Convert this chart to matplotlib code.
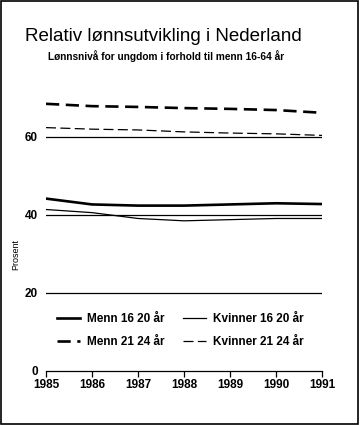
import matplotlib
matplotlib.use("Agg")
import matplotlib.pyplot as plt
from matplotlib.patches import Rectangle

plt.rcParams['font.family'] = ['Liberation Sans', 'DejaVu Sans']

years = [1985, 1986, 1987, 1988, 1989, 1990, 1991]
menn_16_20 = [44.2, 42.7, 42.4, 42.4, 42.7, 43.0, 42.8]
kvinner_16_20 = [41.4, 40.6, 39.1, 38.5, 38.8, 39.1, 39.1]
menn_21_24 = [68.5, 67.9, 67.7, 67.4, 67.2, 66.9, 66.2]
kvinner_21_24 = [62.4, 62.0, 61.8, 61.3, 61.0, 60.8, 60.4]
yticks = [0, 20, 40, 60]

fig = plt.figure(figsize=(3.6, 4.25), dpi=100)
fig.patches.append(Rectangle((0.004, 0.003), 0.99, 0.994, transform=fig.transFigure,
                             fill=False, edgecolor='black', linewidth=1.2))

ax = fig.add_axes([0.1278, 0.1271, 0.7667, 0.6424])
# plot order chosen so the 2-column legend reads row-wise like the original
ax.plot(years, menn_16_20, color='black', lw=1.9, label='Menn 16 20 år')
ax.plot(years, menn_21_24, color='black', lw=1.9, dashes=(5, 2.5), label='Menn 21 24 år')
ax.plot(years, kvinner_16_20, color='black', lw=0.9, label='Kvinner 16 20 år')
ax.plot(years, kvinner_21_24, color='black', lw=0.9, dashes=(8, 3.5), label='Kvinner 21 24 år')

for y in yticks[1:]:
    ax.axhline(y, color='black', lw=0.9, zorder=0)

ax.set_xlim(1985, 1991)
ax.set_ylim(0, 70)
ax.set_xticks(years)
ax.set_yticks(yticks)
ax.tick_params(axis='x', direction='out', length=4, width=0.9, labelsize=8.5, pad=2)
ax.tick_params(axis='y', length=0, labelsize=8.5, pad=6)
for lbl in ax.get_xticklabels() + ax.get_yticklabels():
    lbl.set_fontweight('bold')
for s in ['top', 'right', 'left']:
    ax.spines[s].set_visible(False)
ax.spines['bottom'].set_linewidth(0.9)

ax.legend(loc='lower left', bbox_to_anchor=(0.0, 0.045), ncol=2, frameon=False,
          handlelength=2.0, columnspacing=1.5, handletextpad=0.6,
          labelspacing=0.95, prop={'weight': 'bold', 'size': 8.5})

fig.text(0.045, 0.4, 'Prosent', fontsize=6.5, rotation=90, ha='center', va='center')
fig.text(0.07, 0.915, 'Relativ lønnsutvikling i Nederland', fontsize=13.5, va='center')
fig.text(0.133, 0.867, 'Lønnsnivå for ungdom i forhold til menn 16-64 år', fontsize=7.3,
         fontweight='bold', va='center')

fig.savefig('out.png', dpi=100)
